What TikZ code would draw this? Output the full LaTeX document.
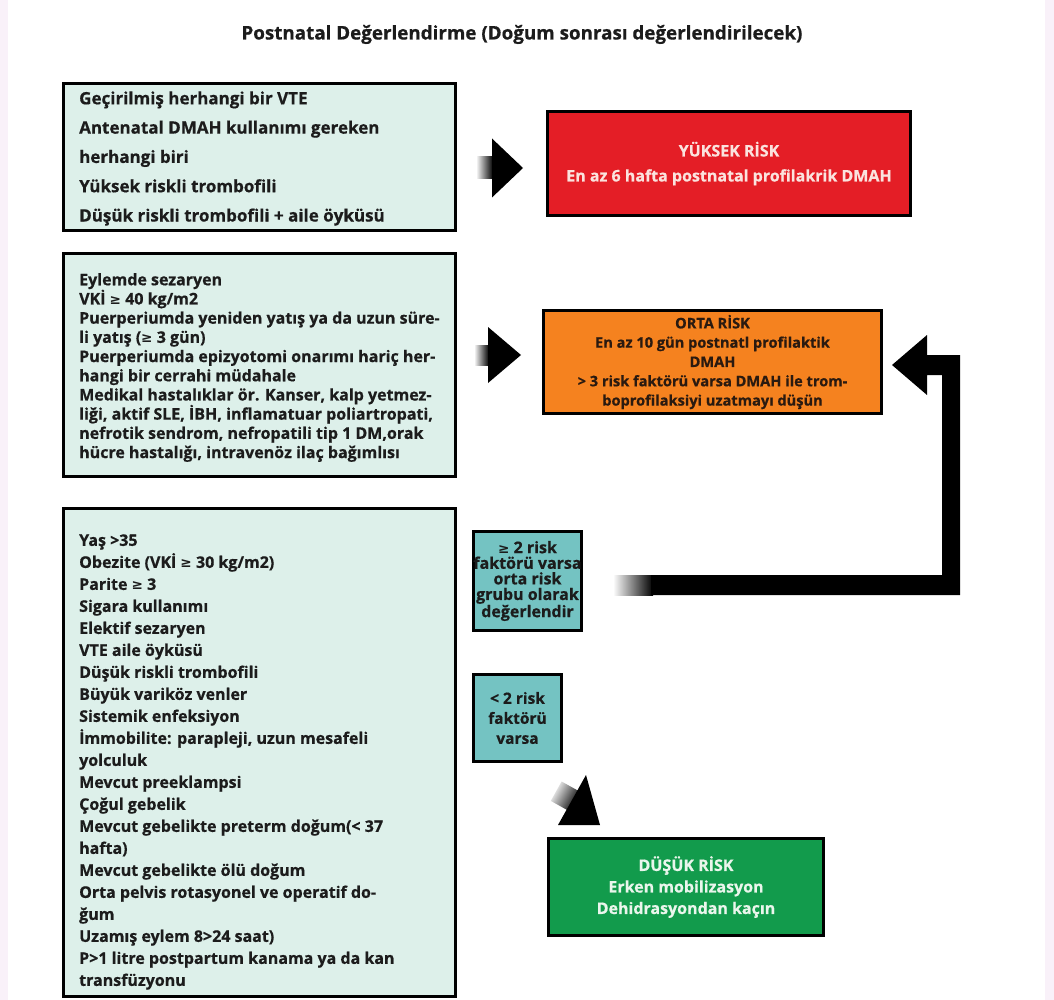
\documentclass[tikz,border=0pt]{standalone}
\usepackage{fontspec}
\setmainfont{Open Sans}[BoldFeatures={FakeBold=0.6}]
\newfontfamily\symfont{DejaVu Sans}[Scale=0.85]
\usetikzlibrary{calc}
\definecolor{mintfill}{HTML}{DDF0EA}
\definecolor{tealfill}{HTML}{74C3C2}
\definecolor{highred}{HTML}{E41E26}
\definecolor{highredtext}{HTML}{FBE3DE}
\definecolor{midorange}{HTML}{F5821F}
\definecolor{midtext}{HTML}{2A1A10}
\definecolor{lowgreen}{HTML}{129B4C}
\definecolor{lowtext}{HTML}{EAF6EC}
\definecolor{inkdark}{HTML}{1C1C1C}
\definecolor{edgepink}{HTML}{F9F1F9}
\newcommand{\gte}{{\symfont ≥}}

\begin{document}
\begin{tikzpicture}[x=1pt,y=-1pt,
  every node/.style={font=\bfseries,inner sep=0pt},
  listbox/.style={draw=black,line width=3pt,fill=mintfill,minimum width=392pt},
  listtext/.style={anchor=west,align=left,text=inkdark},
  riskbox/.style={draw=black,line width=3pt,align=center},
  hintbox/.style={draw=black,line width=3pt,fill=tealfill,align=center,text=inkdark,
    font=\fontsize{16}{15.6}\selectfont\bfseries},
  shaft/.style={left color=white,right color=black}]
\useasboundingbox (0,0) rectangle (1054,1000);
\fill[edgepink] (0,0) rectangle (1054,1000);
\fill[white] (8,0) rectangle (1045,1000);
\node[font=\fontsize{18.8}{22}\selectfont\bfseries,text=inkdark] (title) at (522,34.5) {Postnatal Değerlendirme (Doğum sonrası değerlendirilecek)};
% left column
\node[listbox,minimum height=147pt] (highlist) at (259.5,157) {};
\node[listtext,font=\fontsize{17}{29.3}\selectfont\bfseries] (hightext) at (79,158.5) {Geçirilmiş herhangi bir VTE\\ Antenatal DMAH kullanımı gereken\\ herhangi biri\\ Yüksek riskli trombofili\\ Düşük riskli trombofili + aile öyküsü};
\node[listbox,minimum height=223pt] (midlist) at (259.5,365) {};
\node[listtext,font=\fontsize{16}{19.2}\selectfont\bfseries] (midtext) at (79,367.5) {Eylemde sezaryen\\ VKİ \gte{} 40 kg/m2\\ Puerperiumda yeniden yatış ya da uzun süre-\\ li yatış (\gte{} 3 gün)\\ Puerperiumda epizyotomi onarımı hariç her-\\ hangi bir cerrahi müdahale\\ Medikal hastalıklar ör. Kanser, kalp yetmez-\\ liği, aktif SLE, İBH, inflamatuar poliartropati,\\ nefrotik sendrom, nefropatili tip 1 DM,orak\\ hücre hastalığı, intravenöz ilaç bağımlısı};
\node[listbox,minimum height=488pt] (lowlist) at (259.5,752.5) {};
\node[listtext,font=\fontsize{16}{22}\selectfont\bfseries] (lowtext) at (79,762) {Yaş >35\\ Obezite (VKİ \gte{} 30 kg/m2)\\ Parite \gte{} 3\\ Sigara kullanımı\\ Elektif sezaryen\\ VTE aile öyküsü\\ Düşük riskli trombofili\\ Büyük variköz venler\\ Sistemik enfeksiyon\\ İmmobilite: parapleji, uzun mesafeli\\ yolculuk\\ Mevcut preeklampsi\\ Çoğul gebelik\\ Mevcut gebelikte preterm doğum(< 37\\ hafta)\\ Mevcut gebelikte ölü doğum\\ Orta pelvis rotasyonel ve operatif do-\\ ğum\\ Uzamış eylem 8>24 saat)\\ P>1 litre postpartum kanama ya da kan\\ transfüzyonu};
% risk groups
\node[riskbox,fill=highred,text=highredtext,minimum width=363pt,minimum height=104pt,
  font=\fontsize{16}{25}\selectfont\bfseries] (highrisk) at (729,163.5) {YÜKSEK RİSK\\ En az 6 hafta postnatal profilakrik DMAH};
\node[riskbox,fill=midorange,text=midtext,minimum width=338pt,minimum height=103pt,
  font=\fontsize{14.6}{19.3}\selectfont\bfseries] (midrisk) at (712.5,362) {ORTA RİSK\\ En az 10 gün postnatl profilaktik\\ DMAH\\ > 3 risk faktörü varsa DMAH ile trom-\\ boprofilaksiyi uzatmayı düşün};
\node[riskbox,fill=lowgreen,text=lowtext,minimum width=275pt,minimum height=97pt,
  font=\fontsize{16}{21.5}\selectfont\bfseries] (lowrisk) at (686,887) {DÜŞÜK RİSK\\ Erken mobilizasyon\\ Dehidrasyondan kaçın};
\node[hintbox,minimum width=108pt,minimum height=99pt] (manyfactors) at (527.5,581) {\gte{} 2 risk\\ faktörü varsa\\ orta risk\\ grubu olarak\\ değerlendir};
\node[hintbox,minimum width=88pt,minimum height=87pt,
  font=\fontsize{15.5}{20}\selectfont\bfseries] (fewfactors) at (517.5,718) {< 2 risk\\ faktörü\\ varsa};
% block arrows
\coordinate (hightip) at (523,168);
\coordinate (midtip) at (521,355);
\coordinate (looptip) at (892,365);
\coordinate (loopstart) at (613,585);
\coordinate (lowtip) at (600,825);
\shade[shaft] ($(hightip)+(-47,-11)$) rectangle ($(hightip)+(-30,11)$);
\fill (hightip) -- ++(-31,-29.5) -- ++(0,59) -- cycle;
\shade[shaft] ($(midtip)+(-47,-10)$) rectangle ($(midtip)+(-32,10)$);
\fill (midtip) -- ++(-33,-28) -- ++(0,56) -- cycle;
\shade[shaft] ($(loopstart)+(0,-10)$) rectangle ($(loopstart)+(40,10)$);
\fill (looptip) -- ++(35,-30) -- ++(0,20) -- ++(33,0) -- ++(0,240) -- ($(loopstart)+(38,10)$)
  -- ++(0,-20) -- ++(291,0) -- ++(0,-200) -- ++(-15,0) -- ++(0,20) -- cycle;
\shade[top color=white,bottom color=black,shading angle=61] ($(lowtip)+(-20.8,-33.7)$) -- ($(lowtip)+(-38.4,-43.5)$)
  -- ($(lowtip)+(-49.2,-24.1)$) -- ($(lowtip)+(-31.6,-14.3)$) -- cycle;
\fill (lowtip) -- ++(-14,-50) -- ++(-28,50) -- cycle;
\end{tikzpicture}
\end{document}
